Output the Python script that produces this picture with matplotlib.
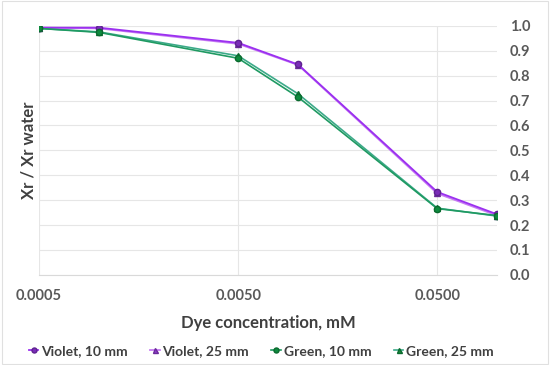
import numpy as np
import matplotlib.pyplot as plt
from matplotlib.ticker import FixedLocator, FixedFormatter, NullLocator

plt.rcParams["font.family"] = ["Lato", "DejaVu Sans"]

conc = [0.0005, 0.001, 0.005, 0.01, 0.05, 0.1]
violet_10 = [0.993, 0.993, 0.932, 0.845, 0.333, 0.243]
violet_25 = [0.993, 0.990, 0.928, 0.843, 0.327, 0.238]
green_10 = [0.990, 0.974, 0.870, 0.714, 0.266, 0.238]
green_25 = [0.990, 0.976, 0.880, 0.727, 0.268, 0.236]

xticks = [0.0005, 0.005, 0.05]
xtick_labels = ["0.0005", "0.0050", "0.0500"]
yticks = np.round(np.arange(0, 1.01, 0.1), 1)

fig = plt.figure(figsize=(5.5, 3.65), dpi=100)
ax = fig.add_axes([0.071, 0.247, 0.833, 0.682])

ax.plot(conc, violet_10, color="#9B30F0", lw=1.3, marker="o", ms=4.5,
        mfc="#7A2CB8", mec="#5E2290", label="Violet, 10 mm", zorder=4)
ax.plot(conc, violet_25, color="#C77DF3", lw=1.3, marker="^", ms=4.5,
        mfc="#8E3CC8", mec="#6A2A9A", label="Violet, 25 mm", zorder=3)
ax.plot(conc, green_10, color="#1F9A62", lw=1.2, marker="o", ms=4.5,
        mfc="#0E8A3E", mec="#0A6A2E", label="Green, 10 mm", zorder=4)
ax.plot(conc, green_25, color="#3DAA8A", lw=1.2, marker="^", ms=4.5,
        mfc="#1A8A3A", mec="#0A6A2E", label="Green, 25 mm", zorder=3)

ax.set_xscale("log")
ax.set_xlim(0.0005, 0.1)
ax.set_ylim(0, 1.0)
ax.xaxis.set_major_locator(FixedLocator(xticks))
ax.xaxis.set_major_formatter(FixedFormatter(xtick_labels))
ax.xaxis.set_minor_locator(NullLocator())
ax.set_yticks(yticks)
ax.set_yticklabels([f"{v:.1f}" for v in yticks])

ax.yaxis.tick_right()
ax.yaxis.set_label_position("left")
ax.tick_params(axis="x", length=0, labelsize=10.5, labelcolor="#595959", pad=10)
ax.tick_params(axis="y", length=0, labelsize=10.5, labelcolor="#595959", pad=9)
for lab in ax.get_xticklabels() + ax.get_yticklabels():
    lab.set_fontweight("bold")

ax.grid(True, color="#E6E6E6", lw=0.8)
ax.set_axisbelow(True)
for s in ["top", "left", "right"]:
    ax.spines[s].set_visible(False)
ax.spines["bottom"].set_color("#D9D9D9")

ax.set_ylabel("Xr / Xr water", fontsize=12, fontweight="bold", color="#404040", labelpad=2)
ax.set_xlabel("Dye concentration, mM", fontsize=12, fontweight="bold", color="#404040", labelpad=9)

leg = fig.legend(loc="center", bbox_to_anchor=(0.475, 0.038), ncol=4, frameon=False,
                 fontsize=10, handlelength=0.7, handletextpad=0.2, columnspacing=1.6,
                 markerscale=0.8)
for t in leg.get_texts():
    t.set_fontweight("bold")
    t.set_color("#404040")

fig.patches.append(plt.Rectangle((0.004, 0.004), 0.992, 0.992, transform=fig.transFigure,
                                 fill=False, edgecolor="#E0E0E0", lw=0.8))

fig.savefig("out.png", dpi=100)
